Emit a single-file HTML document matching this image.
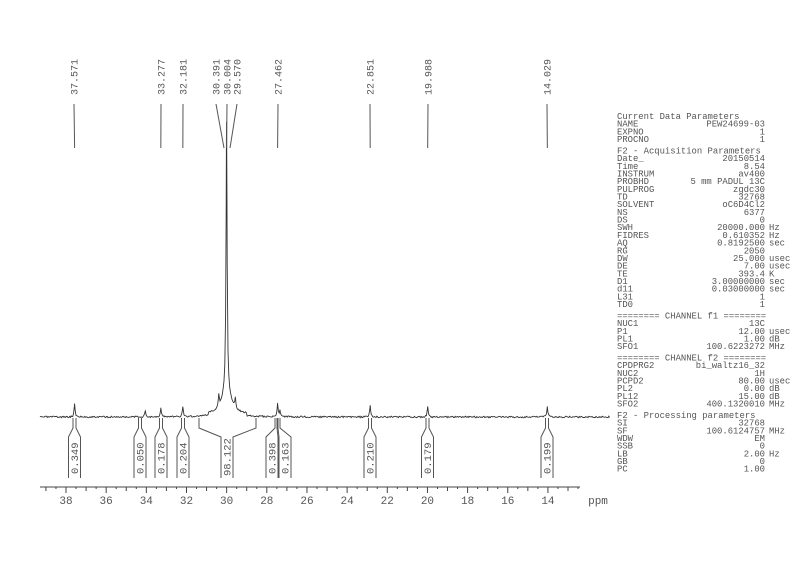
<!DOCTYPE html>
<html><head><meta charset="utf-8"><style>
html,body{margin:0;padding:0;background:#fff;width:800px;height:565px;overflow:hidden}
svg text{font-family:"Liberation Mono",monospace;fill:#555}
</style></head><body>
<svg id="s" width="800" height="565" viewBox="0 0 800 565" xmlns="http://www.w3.org/2000/svg"></svg>
<script>
const s=document.getElementById('s');let h='';
const X=p=>66+(38-p)*20.08;
h+='<line x1="40" y1="487" x2="580" y2="487" stroke="#444" stroke-width="1"/>';
for(let p=39;p>=12;p-=0.5){const x=X(p);if(x<40||x>580)continue;const maj=Math.abs(p%2)<1e-6;const mid=Math.abs(p%1)<1e-6;
h+=`<line x1="${x}" y1="487" x2="${x}" y2="${maj?493:(mid?491:489)}" stroke="#444"/>`;
if(maj)h+=`<text x="${x}" y="504" font-size="11" text-anchor="middle">${p}</text>`;}
h+='<text x="598" y="504" font-size="11" text-anchor="middle">ppm</text>';
let pk=[[37.571,13,0.03],[34.05,6,0.03],[33.277,9,0.03],[32.181,10,0.03],[30.391,12,0.03],[30.004,267,0.03],[30.004,25,0.25],[29.570,10,0.03],[27.462,13,0.03],[27.35,6,0.03],[22.851,11,0.03],[19.988,10,0.03],[14.029,10,0.03]];
let xs=[];for(let x=40;x<=610;x+=0.8)xs.push(x);
for(const [c] of pk){const x=X(c);xs.push(x,x-0.4,x+0.4);}
xs.sort((a,b)=>a-b);
let pts=[];let seed=3;const r=()=>{seed=(seed*16807)%2147483647;return seed/2147483647-0.5};
for(const x of xs){const p=38-(x-66)/20.08;let y=417+r()*1.6;
for(const [c,a,w] of pk){y-=a/(1+((p-c)/w)**2);}
if(p<30.9&&p>29.0)y-=2.5;
pts.push(x.toFixed(1)+','+y.toFixed(1));}
h+=`<polyline points="${pts.join(' ')}" fill="none" stroke="#333" stroke-width="0.9"/>`;
const lab=[[37.571,74],[33.277,161],[32.181,183],[30.391,216],[30.004,227],[29.570,237],[27.462,278],[22.851,370],[19.988,428],[14.029,547]];
for(const [v,lx] of lab){let px=X(v);if(v==30.391)px=224;if(v==29.570)px=230;
h+=`<text transform="translate(${lx+3.5},95) rotate(-90)" font-size="10">${v.toFixed(3)}</text>`;
h+=`<line x1="${lx}" y1="104" x2="${px}" y2="148" stroke="#555" stroke-width="1"/>`;}
const ig=[[74.5,'0.349',1.5,6,74.5],[140,'0.050',1.5,6,140],[161,'0.178',1.5,6,161],[183,'0.204',1.5,6,183],[276,'0.398',1,6,272],[279,'0.163',1,6,285],[370,'0.210',1.5,6,370],[427.5,'0.179',1.5,6,427.5],[547,'0.199',1.5,6,547]];
const P=a=>`<polyline points="${a}" fill="none" stroke="#555" stroke-width="1"/>`;
for(const [x,t,n,w,bx] of ig){
h+=P(`${x-n},418 ${x-n},428 ${bx-w},437 ${bx-w},478`)+P(`${x+n},418 ${x+n},428 ${bx+w},437 ${bx+w},478`);
h+=`<text transform="translate(${bx+3.5},474) rotate(-90)" font-size="10.5">${t}</text>`;}
h+=P('199,418 199,428 221,437 221,478')+P('256,418 256,428 233,437 233,478');
h+='<text transform="translate(230.5,476) rotate(-90)" font-size="10.5">98.122</text>';
const L=[["Current Data Parameters"],["NAME","PEW24699-03"],["EXPNO","1"],["PROCNO","1"],null,
["F2 - Acquisition Parameters"],["Date_","20150514"],["Time","8.54"],["INSTRUM","av400"],["PROBHD","5 mm PADUL 13C"],["PULPROG","zgdc30"],["TD","32768"],["SOLVENT","oC6D4Cl2"],["NS","6377"],["DS","0"],["SWH","20000.000","Hz"],["FIDRES","0.610352","Hz"],["AQ","0.8192500","sec"],["RG","2050"],["DW","25.000","usec"],["DE","7.00","usec"],["TE","393.4","K"],["D1","3.00000000","sec"],["d11","0.03000000","sec"],["L31","1"],["TD0","1"],null,
["======== CHANNEL f1 ========"],["NUC1","13C"],["P1","12.00","usec"],["PL1","1.00","dB"],["SFO1","100.6223272","MHz"],null,
["======== CHANNEL f2 ========"],["CPDPRG2","bi_waltz16_32"],["NUC2","1H"],["PCPD2","80.00","usec"],["PL2","0.00","dB"],["PL12","15.00","dB"],["SFO2","400.1320010","MHz"],null,
["F2 - Processing parameters"],["SI","32768"],["SF","100.6124757","MHz"],["WDW","EM"],["SSB","0"],["LB","2.00","Hz"],["GB","0"],["PC","1.00"]];
let y=119;const fs=8.9;
for(const l of L){if(!l){y+=3.7;continue;}
if(l.length==1)h+=`<text x="617" y="${y}" font-size="${fs}">${l[0]}</text>`;
else{h+=`<text x="617" y="${y}" font-size="${fs}">${l[0]}</text><text x="765" y="${y}" font-size="${fs}" text-anchor="end">${l[1]}</text>`;
if(l[2])h+=`<text x="769" y="${y}" font-size="${fs}">${l[2]}</text>`;}
y+=7.68;}
s.innerHTML=h;
</script>
</body></html>
